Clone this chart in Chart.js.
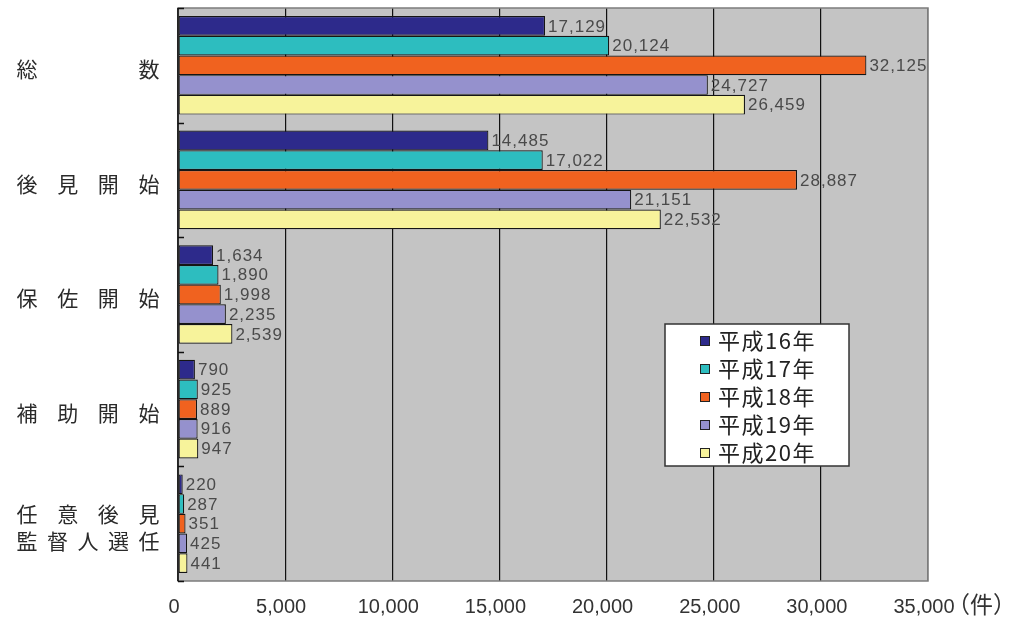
<!DOCTYPE html>
<html lang="ja">
<head>
<meta charset="utf-8">
<title>成年後見関係事件の申立件数</title>
<script src="https://cdn.jsdelivr.net/npm/chart.js@4.4.1/dist/chart.umd.min.js"></script>
<style>
  html, body { margin: 0; padding: 0; background: #ffffff; overflow: hidden; }
  #wrap { width: 1012px; height: 621px; position: relative; }
</style>
</head>
<body>
<div id="wrap"><canvas id="caseChart"></canvas></div>
<script>
// Category labels, one array of lines per row (each line is spread across the label column)
const categories = [
  ['総数'],
  ['後見開始'],
  ['保佐開始'],
  ['補助開始'],
  ['任意後見', '監督人選任']
];
const seriesNames = ['平成16年', '平成17年', '平成18年', '平成19年', '平成20年'];
const h16 = [17129, 14485, 1634, 790, 220];
const h17 = [20124, 17022, 1890, 925, 287];
const h18 = [32125, 28887, 1998, 889, 351];
const h19 = [24727, 21151, 2235, 916, 425];
const h20 = [26459, 22532, 2539, 947, 441];
const xTicks = [0, 5000, 10000, 15000, 20000, 25000, 30000, 35000];
const unitLabel = '（件）';

const seriesColors = ['#2d2a8b', '#2dbdbf', '#f0621f', '#9591cd', '#f7f39b'];
const cjkFont = '"Noto Sans CJK JP", "Noto Sans", sans-serif';
const numFont = '"Liberation Sans", Arial, sans-serif';

function fmt(v) {
  return v.toLocaleString('en-US');
}

// gray plot background and outer frame
const plotFrame = {
  id: 'plotFrame',
  beforeDraw(chart) {
    const { ctx, chartArea: a } = chart;
    ctx.save();
    ctx.fillStyle = '#c4c4c4';
    ctx.fillRect(a.left, a.top, a.right - a.left, a.bottom - a.top);
    ctx.restore();
  },
  afterDatasetsDraw(chart) {
    const { ctx, chartArea: a } = chart;
    ctx.save();
    ctx.strokeStyle = '#7c7c7c';
    ctx.lineWidth = 1.5;
    ctx.strokeRect(a.left, a.top, a.right - a.left, a.bottom - a.top);
    ctx.strokeStyle = '#111';
    ctx.lineWidth = 1.5;
    ctx.beginPath();
    ctx.moveTo(a.left, a.top);
    ctx.lineTo(a.left, a.bottom);
    // short inner ticks at category boundaries
    const yScale = chart.scales.y;
    for (let i = 0; i <= categories.length; i++) {
      const y = Math.round(yScale.getPixelForValue(i - 0.5)) + 0.5;
      ctx.moveTo(a.left, y);
      ctx.lineTo(a.left + 6, y);
    }
    ctx.stroke();
    ctx.restore();
  }
};

// value labels, category labels, unit and legend box
const annotations = {
  id: 'annotations',
  afterDraw(chart) {
    const { ctx } = chart;
    const yScale = chart.scales.y;
    const xScale = chart.scales.x;
    const spacing = 'letterSpacing' in ctx;
    ctx.save();

    // values at bar ends
    ctx.font = '17px ' + numFont;
    ctx.fillStyle = '#4a4a4a';
    ctx.textBaseline = 'middle';
    ctx.textAlign = 'left';
    if (spacing) ctx.letterSpacing = '1px';
    chart.data.datasets.forEach((ds, di) => {
      const meta = chart.getDatasetMeta(di);
      meta.data.forEach((bar, i) => {
        ctx.fillText(fmt(ds.data[i]), bar.x + 3, bar.y + 1);
      });
    });
    if (spacing) ctx.letterSpacing = '0px';

    // category labels spread across the left column
    ctx.font = '21px ' + cjkFont;
    ctx.fillStyle = '#2a2a2a';
    ctx.textAlign = 'center';
    const c0 = 27, c1 = 149;
    categories.forEach((lines, i) => {
      const yc = yScale.getPixelForValue(i) + 4;
      const lh = 27;
      lines.forEach((line, li) => {
        const y = yc + (li - (lines.length - 1) / 2) * lh;
        const chars = Array.from(line);
        chars.forEach((ch, k) => {
          const x = chars.length > 1 ? c0 + (c1 - c0) * k / (chars.length - 1) : (c0 + c1) / 2;
          ctx.fillText(ch, x, y);
        });
      });
    });

    // unit after the last tick
    ctx.font = '23px ' + cjkFont;
    ctx.fillStyle = '#333';
    ctx.textAlign = 'left';
    ctx.fillText(unitLabel, xScale.getPixelForValue(xTicks[xTicks.length - 1]) + 19, 604);

    // legend box
    const lx = 665, ly = 324, lw = 184, lh2 = 142;
    ctx.fillStyle = '#ffffff';
    ctx.fillRect(lx, ly, lw, lh2);
    ctx.strokeStyle = '#333';
    ctx.lineWidth = 1.5;
    ctx.strokeRect(lx, ly, lw, lh2);
    ctx.font = '22px ' + cjkFont;
    ctx.textBaseline = 'middle';
    if (spacing) ctx.letterSpacing = '1.5px';
    chart.data.datasets.forEach((ds, di) => {
      const y = ly + 17 + di * 28;
      ctx.fillStyle = ds.backgroundColor;
      ctx.fillRect(700, y - 5, 10, 10);
      ctx.strokeStyle = '#222';
      ctx.lineWidth = 1;
      ctx.strokeRect(700.5, y - 4.5, 9, 9);
      ctx.fillStyle = '#222';
      ctx.fillText(ds.label, 718, y);
    });
    ctx.restore();
  }
};

const seriesData = [h16, h17, h18, h19, h20];

new Chart(document.getElementById('caseChart'), {
  type: 'bar',
  data: {
    labels: categories.map(l => l.join('')),
    datasets: seriesNames.map((name, i) => ({
      label: name,
      data: seriesData[i],
      backgroundColor: seriesColors[i],
      borderColor: '#151515',
      borderWidth: 1.2,
      borderSkipped: false,
      categoryPercentage: 0.86,
      barPercentage: 1.0
    }))
  },
  options: {
    indexAxis: 'y',
    responsive: true,
    maintainAspectRatio: false,
    animation: false,
    layout: { padding: { left: 178, right: 84, top: 8, bottom: -12 } },
    plugins: {
      legend: { display: false },
      tooltip: { enabled: false }
    },
    scales: {
      x: {
        min: 0,
        max: 35000,
        afterBuildTicks(scale) {
          scale.ticks = xTicks.map(v => ({ value: v }));
        },
        border: { display: false },
        grid: {
          drawTicks: false,
          lineWidth: 1.2,
          color: ctx => (ctx.tick && ctx.tick.value === 35000 ? '#7c7c7c' : '#111')
        },
        ticks: {
          padding: 14,
          labelOffset: -4,
          maxRotation: 0,
          color: '#333',
          font: { family: numFont, size: 20 },
          callback: v => fmt(v)
        }
      },
      y: {
        border: { display: false },
        grid: { display: false, drawTicks: false },
        ticks: { display: false }
      }
    }
  },
  plugins: [plotFrame, annotations]
});
</script>
</body>
</html>
